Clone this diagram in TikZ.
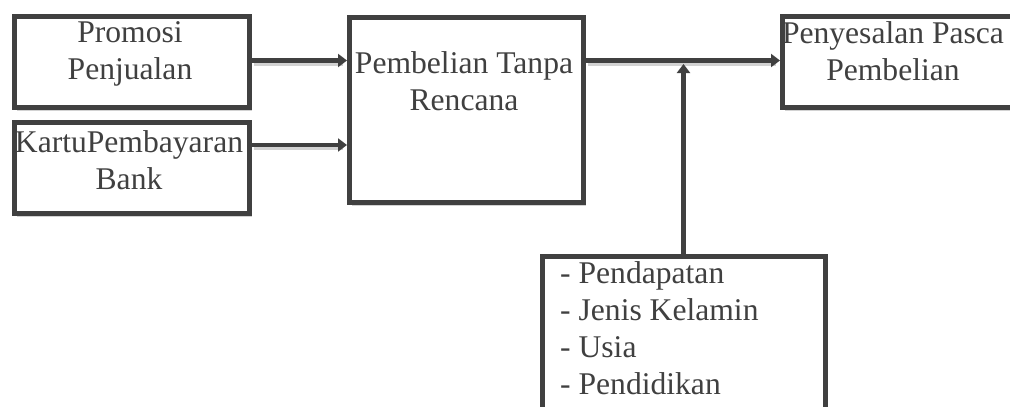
\documentclass[tikz,border=0pt]{standalone}
\usepackage{fontspec}
\setmainfont{Liberation Serif}
\usetikzlibrary{arrows.meta,shadows,calc}
\definecolor{ink}{RGB}{64,64,64}
\definecolor{shade}{RGB}{210,210,210}
\begin{document}
\begin{tikzpicture}[x=1pt,y=-1pt,
  box/.style={draw=ink, line width=4.5pt, fill=white, rectangle, inner sep=0pt,
    anchor=north west, drop shadow={shadow xshift=3pt, shadow yshift=-4pt, fill=shade, opacity=1}},
  txt/.style={text=ink, inner sep=0pt, anchor=north, align=center,
    font=\fontsize{31.6}{37}\selectfont},
  txtl/.style={txt, anchor=north west, align=left},
  conn/.style={draw=ink, line width=4.5pt, -{Triangle[length=9pt,width=13pt]}},
  connshade/.style={draw=shade, line width=4.5pt}
]
\useasboundingbox (0,0) rectangle (1010,407);
\node[box, minimum width=235pt, minimum height=91pt] (promo) at (12,14) {};
\node[box, minimum width=235pt, minimum height=91pt] (kartu) at (12,120) {};
\node[box, minimum width=234pt, minimum height=185pt] (pemb) at (347,15) {};
\node[box, minimum width=240pt, minimum height=91pt] (peny) at (780,14) {};
\node[box, minimum width=283pt, minimum height=180pt] (mod) at (540,254) {};

\node[txt] (tpromo) at (130,21.5) {Promosi\\Penjualan};
\node[txt] (tkartu) at (129,130.5) {KartuPembayaran\\Bank};
\node[txt] (tpemb) at (464,51.5) {Pembelian Tanpa\\Rencana};
\node[txt] (tpeny) at (893,21.5) {Penyesalan Pasca\\Pembelian};
\node[txtl] (tmod) at (560,261.5) {- Pendapatan\\- Jenis Kelamin\\- Usia\\- Pendidikan};

\coordinate (y1) at (0,60.5);
\coordinate (y2) at (0,145);
\coordinate (j) at (683.5,64);
\begin{scope}[transform canvas={xshift=2pt,yshift=-3pt}]
\draw[connshade] (promo.east |- y1) -- ([xshift=-6pt]pemb.west |- y1);
\draw[connshade] (kartu.east |- y2) -- ([xshift=-6pt]pemb.west |- y2);
\draw[connshade] (pemb.east |- y1) -- ([xshift=-6pt]peny.west |- y1);
\end{scope}
\draw[conn] (promo.east |- y1) -- (pemb.west |- y1);
\draw[conn] (kartu.east |- y2) -- (pemb.west |- y2);
\draw[conn] (pemb.east |- y1) -- (peny.west |- y1);
\draw[conn] (mod.north -| j) -- (j);
\end{tikzpicture}
\end{document}
